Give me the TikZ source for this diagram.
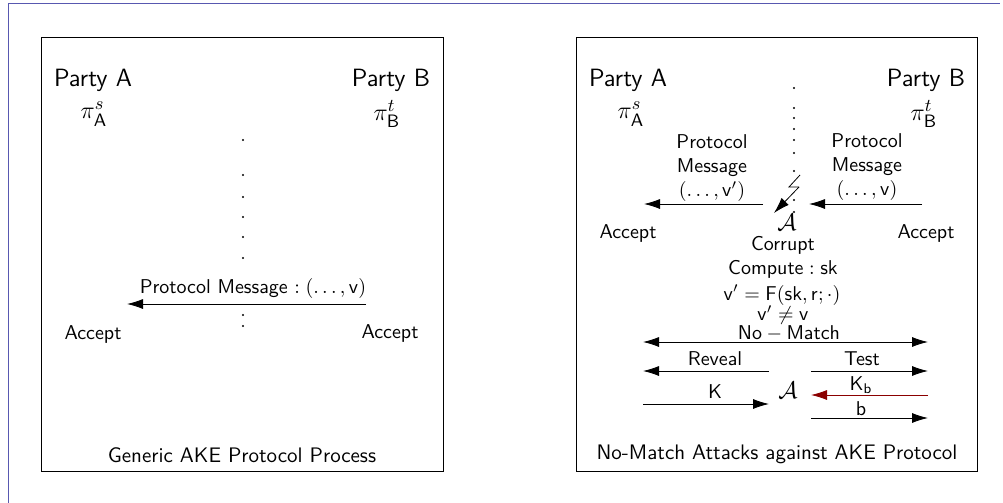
\documentclass[tikz,border=0pt]{standalone}
\usepackage{amsmath}
\usetikzlibrary{arrows.meta}
\renewcommand{\familydefault}{\sfdefault}
\definecolor{framecol}{RGB}{88,88,176}
\definecolor{keyred}{RGB}{139,0,0}

\begin{document}
\begin{tikzpicture}[x=0.5pt,y=-0.5pt,
  txt/.style={inner sep=0pt,font=\normalsize},
  captxt/.style={inner sep=0pt,font=\fontsize{10.5}{12}\selectfont},
  party/.style={inner sep=0pt,font=\fontsize{12.5}{14}\selectfont},
  msg/.style={-{Latex[length=8pt,width=5pt]}},
  dmsg/.style={{Latex[length=8pt,width=5pt]}-{Latex[length=8pt,width=5pt]}}]
\useasboundingbox (0,0) rectangle (1003,503);
\draw[framecol] (8,503) -- (8,3) -- (1000,3);
% generic protocol
\draw (41,37) rectangle (443,471);
\node[party] (pA) at (93,80) {Party A};
\node[party] (pB) at (391,80) {Party B};
\node[party] (inA) at (94,114) {$\pi^{s}_{\mathsf{A}}$};
\node[party] (inB) at (387,114) {$\pi^{t}_{\mathsf{B}}$};
\foreach \y in {140,175,197,217,237,258,315,326} \fill (243,\y) circle (0.6pt);
\coordinate (ms) at (366,304);
\coordinate (me) at (127,304);
\draw[msg] (ms) -- (me);
\node[txt] (msgl) at (253,288) {Protocol Message $:(\ldots,\mathsf{v})$};
\node[txt] (accA) at (93,334) {Accept};
\node[txt] (accB) at (390,333) {Accept};
\node[captxt] (capL) at (242,455) {Generic AKE Protocol Process};
% no-match attack
\draw (576,37) rectangle (977,471);
\node[party] (qA) at (628,80) {Party A};
\node[party] (qB) at (926,80) {Party B};
\node[party] (jnA) at (631,114) {$\pi^{s}_{\mathsf{A}}$};
\node[party] (jnB) at (924,114) {$\pi^{t}_{\mathsf{B}}$};
\foreach \y in {88,108,118,129,140,153,171,200,212} \fill (794,\y) circle (0.6pt);
\coordinate (bolt) at (800,175);
\coordinate (hit) at (774,213);
\draw (bolt) -- ++(-11,12) -- ++(10,0);
\draw[msg] ([shift={(-1,12)}]bolt) -- (hit);
\node[party] (advT) at (787,222) {$\mathcal{A}$};
\coordinate (lms) at (763,204);
\coordinate (lme) at (644,204);
\coordinate (rms) at (922,204);
\coordinate (rme) at (809,204);
\draw[msg] (lms) -- (lme);
\draw[msg] (rms) -- (rme);
\node[txt,align=center] (lmsg) at (712,168) {Protocol\\Message\\$(\ldots,\mathsf{v}')$};
\node[txt,align=center] (rmsg) at (867,167) {Protocol\\Message\\$(\ldots,\mathsf{v})$};
\node[txt] (acA) at (628,233) {Accept};
\node[txt] (acB) at (926,233) {Accept};
\node[txt] (corr) at (783,245) {Corrupt};
\node[txt] (comp) at (783,269) {$\mathsf{Compute}:\mathsf{sk}$};
\node[txt] (fval) at (782,295) {$\mathsf{v}'=\mathsf{F}(\mathsf{sk},\mathsf{r};\cdot)$};
\node[txt] (neq) at (783,315) {$\mathsf{v}'\neq\mathsf{v}$};
\node[txt] (nom) at (789,333) {$\mathsf{No}-\mathsf{Match}$};
\coordinate (nl) at (643,342);
\coordinate (nr) at (928,342);
\draw[dmsg] (nl) -- (nr);
\node[party] (advB) at (788,390) {$\mathcal{A}$};
\coordinate (rvs) at (769,371);
\coordinate (rve) at (643,371);
\coordinate (tss) at (811,371);
\coordinate (tse) at (928,371);
\coordinate (kks) at (643,404);
\coordinate (kke) at (769,404);
\coordinate (kbs) at (928,395);
\coordinate (kbe) at (811,395);
\coordinate (bbs) at (811,418);
\coordinate (bbe) at (928,418);
\draw[msg] (rvs) -- (rve);
\draw[msg] (tss) -- (tse);
\draw[msg] (kks) -- (kke);
\draw[msg,keyred] (kbs) -- (kbe);
\draw[msg] (bbs) -- (bbe);
\node[txt] (rev) at (715,359) {Reveal};
\node[txt] (tst) at (862,359) {Test};
\node[txt] (key) at (715,392) {K};
\node[txt] (keyb) at (861,385) {$\mathsf{K}_{\mathsf{b}}$};
\node[txt] (bit) at (861,409) {$\mathsf{b}$};
\node[captxt] (capR) at (777,454) {No-Match Attacks against AKE Protocol};
\end{tikzpicture}
\end{document}
